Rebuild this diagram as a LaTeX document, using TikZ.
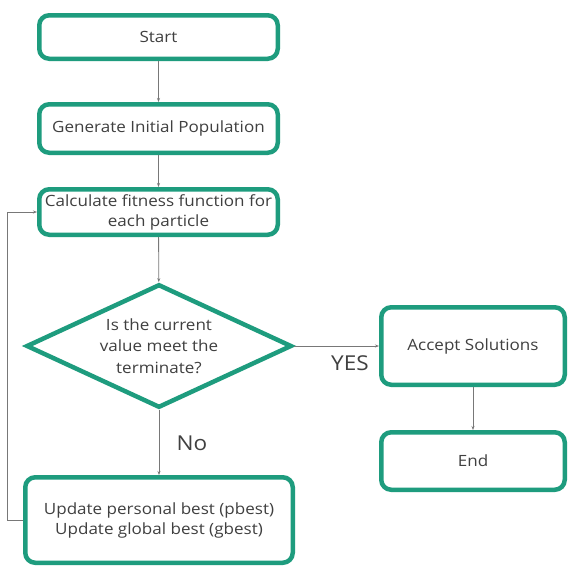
\documentclass[tikz,border=0pt]{standalone}
\usepackage{fontspec}
\setmainfont{Open Sans}[FakeStretch=1.1]
\usetikzlibrary{shapes.geometric,arrows.meta}
\definecolor{teal}{RGB}{30,156,126}
\definecolor{ink}{RGB}{64,64,64}
\definecolor{wire}{RGB}{120,120,120}
\begin{document}
\begin{tikzpicture}[x=1pt,y=-1pt,
  font=\fontsize{15.5}{20}\selectfont, text=ink,
  box/.style={draw=teal, line width=4.5pt, rounded corners=10pt, fill=white,
    inner sep=0pt, align=center},
  decision/.style={draw=teal, line width=4.5pt, diamond, aspect=2.1, fill=white,
    inner sep=0pt, align=center, minimum width=265.5pt, minimum height=123.5pt},
  wirearrow/.style={draw=wire, line width=0.8pt, -{Stealth[length=4pt,width=3pt]}},
  tag/.style={font=\fontsize{20.5}{24}\selectfont}]
  \useasboundingbox[fill=white] (0,0) rectangle (568,566);

  \node[box, minimum width=238.5pt, minimum height=43.5pt] (start) at (158.5,37) {Start};
  \node[box, minimum width=238.5pt, minimum height=48.5pt] (gen) at (158.5,128.5) {Generate Initial Population};
  \node[box, minimum width=238.5pt, minimum height=45.5pt] (fit) at (158.5,212) {Calculate fitness function for\\each particle};
  \node[decision, font=\fontsize{15.5}{21.5}\selectfont] (dec) at (159,346) {Is the current\\value meet the\\terminate?};
  \node[box, minimum width=183.5pt, minimum height=77.5pt] (acc) at (473,346) {Accept Solutions};
  \node[box, minimum width=183.5pt, minimum height=57.5pt] (end) at (473,461) {End};
  \node[box, minimum width=267.5pt, minimum height=85.5pt] (upd) at (159,520) {Update personal best (pbest)\\Update global best (gbest)};

  \coordinate (loopb) at (7.5,520);
  \coordinate (loopt) at (7.5,212);

  \draw[wirearrow] (start) -- (gen);
  \draw[wirearrow] (gen) -- (fit);
  \draw[wirearrow] (fit) -- (dec);
  \draw[wirearrow] (dec) -- (acc);
  \draw[wirearrow] (acc) -- (end);
  \draw[wirearrow] (dec) -- (upd);
  \draw[wirearrow] (upd.west) -- (loopb) -- (loopt) -- (fit.west);

  \node[tag] (yes) at (350,363) {YES};
  \node[tag] (no) at (192,443) {No};
\end{tikzpicture}
\end{document}
